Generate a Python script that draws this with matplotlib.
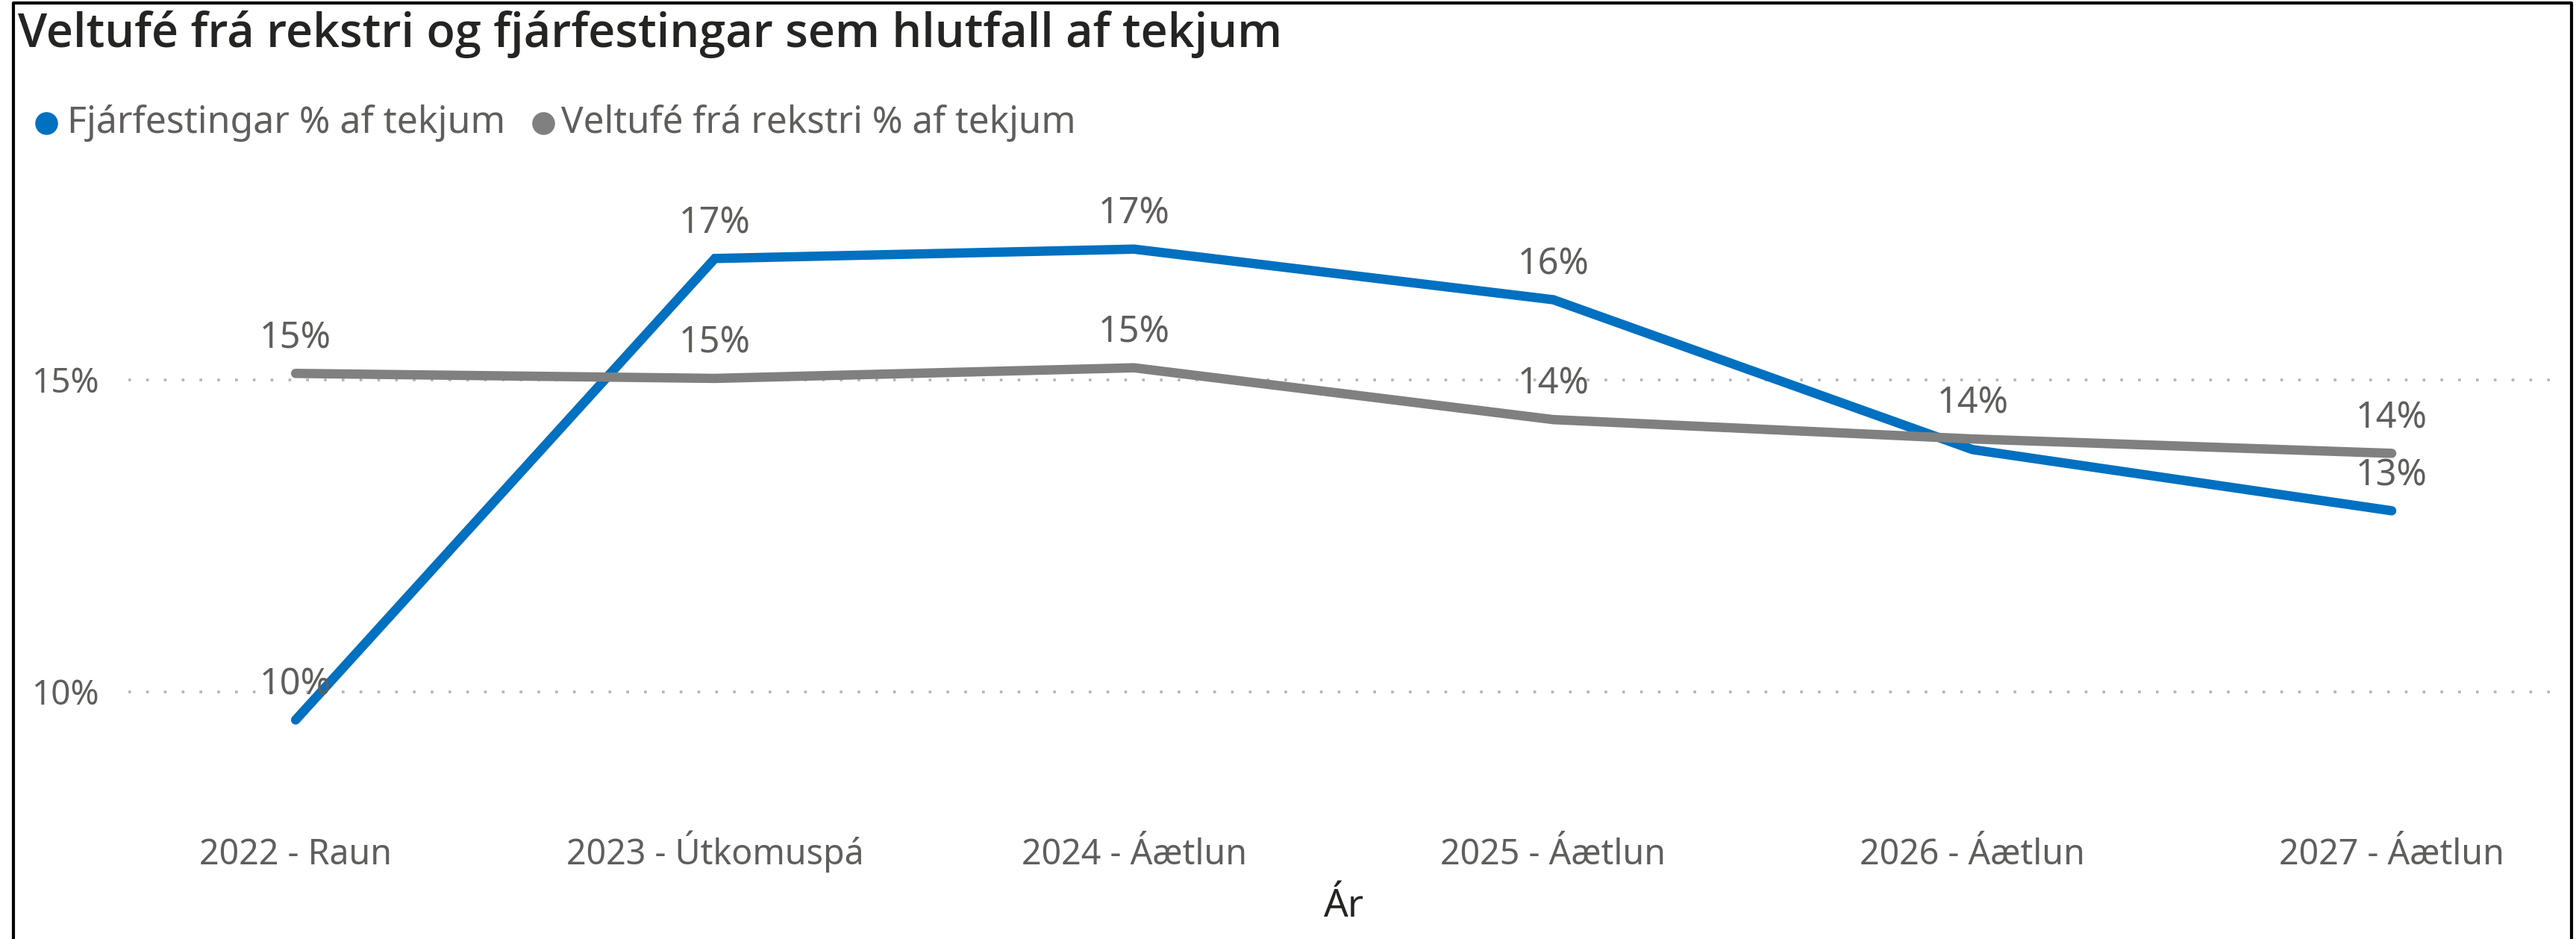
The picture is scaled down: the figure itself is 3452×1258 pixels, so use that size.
import matplotlib
matplotlib.use('Agg')
import matplotlib.pyplot as plt
from matplotlib.lines import Line2D

# data
categories = ['2022 - Raun', '2023 - Útkomuspá', '2024 - Áætlun',
              '2025 - Áætlun', '2026 - Áætlun', '2027 - Áætlun']
fjarfestingar = [9.55, 16.94, 17.09, 16.28, 13.88, 12.90]
veltufe = [15.10, 15.02, 15.19, 14.36, 14.05, 13.82]
# Power BI hides overlapping labels (blue 2026 is hidden)
fjarf_show = [True, True, True, True, False, True]
veltu_show = [True, True, True, True, True, True]
yticks = [10, 15]

blue = '#0070C0'
grey = '#808080'
txt = '#605E5C'

plt.rcParams['font.family'] = ['Noto Sans', 'DejaVu Sans']

W, H = 3452, 1258
fig = plt.figure(figsize=(W / 100, H / 100), dpi=100)

left, right, top, bottom = 172, 3423, 220, 1080
ax = fig.add_axes([left / W, 1 - bottom / H, (right - left) / W, (bottom - top) / H])

x = list(range(len(categories)))
ax.plot(x, fjarfestingar, color=blue, lw=9, solid_capstyle='round', solid_joinstyle='miter', zorder=3)
ax.plot(x, veltufe, color=grey, lw=9, solid_capstyle='round', solid_joinstyle='miter', zorder=4)

for i in x:
    if fjarf_show[i]:
        ax.annotate('%d%%' % round(fjarfestingar[i]), (i, fjarfestingar[i]), xytext=(0, 34),
                    textcoords='offset points', ha='center', va='center', fontsize=35, color=txt, zorder=5)
    if veltu_show[i]:
        ax.annotate('%d%%' % round(veltufe[i]), (i, veltufe[i]), xytext=(0, 34),
                    textcoords='offset points', ha='center', va='center', fontsize=35, color=txt, zorder=5)

ax.set_xlim(-0.399, 5.388)
ax.set_ylim(8.17, 18.45)
ax.set_xticks(x)
ax.set_xticklabels(categories, fontsize=33.5, color=txt, va='baseline')
ax.set_yticks(yticks)
ax.set_yticklabels(['%d%%' % t for t in yticks], fontsize=33, color=txt)
ax.tick_params(axis='both', length=0)
ax.tick_params(axis='x', pad=56)
ax.tick_params(axis='y', pad=28)
ax.grid(axis='y', color='#B4B4B4', lw=2.6, linestyle=(0, (1, 5.6)))
ax.set_axisbelow(True)
for s in ax.spines.values():
    s.set_visible(False)

fig.text(1801 / W, 1 - 1215 / H, 'Ár', fontsize=37, color='#252423', ha='center', va='center')

# title
fig.text(24 / W, 1 - 46 / H, 'Veltufé frá rekstri og fjárfestingar sem hlutfall af tekjum',
         fontsize=45.3, fontweight='semibold', family=['Open Sans', 'Noto Sans'],
         color='#252423', ha='left', va='center')

# legend
fig.add_artist(Line2D([62 / W], [1 - 165 / H], marker='o', markersize=21, color=blue,
                      transform=fig.transFigure, linestyle=''))
fig.text(90 / W, 1 - 165 / H, 'Fjárfestingar % af tekjum', fontsize=36, color=txt, ha='left', va='center')
fig.add_artist(Line2D([728 / W], [1 - 165 / H], marker='o', markersize=21, color=grey,
                      transform=fig.transFigure, linestyle=''))
fig.text(752 / W, 1 - 165 / H, 'Veltufé frá rekstri % af tekjum', fontsize=35.5, color=txt, ha='left', va='center')

# frame around the visual (bottom edge is cut off)
fig.add_artist(Line2D([18 / W, 18 / W, 3446 / W, 3446 / W], [-0.1, 1 - 4 / H, 1 - 4 / H, -0.1],
                      color='black', lw=3, transform=fig.transFigure))

fig.savefig('out.png', dpi=100)
